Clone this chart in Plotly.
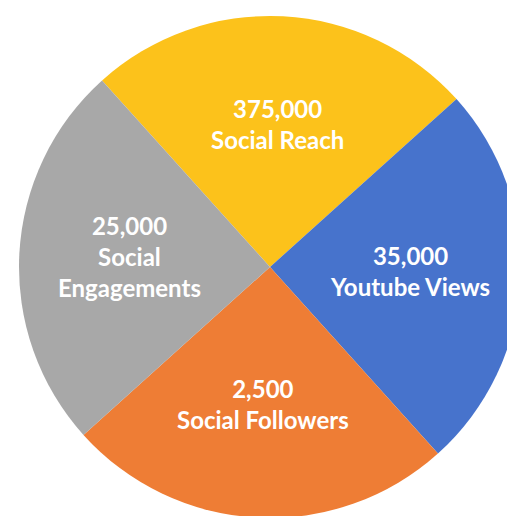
import math
import plotly.graph_objects as go

categories = ["Social Reach", "Youtube Views", "Social Followers", "Social Engagements"]
display_values = ["375,000", "35,000", "2,500", "25,000"]
label_lines = ["Social Reach", "Youtube Views", "Social Followers", "Social<br>Engagements"]
slice_shares = [1, 1, 1, 1]  # slices are drawn equal in the reference
colors = ["#FCC21B", "#4773CC", "#EE7D35", "#A8A8A8"]

texts = [f"{v}<br>{l}" for v, l in zip(display_values, label_lines)]

W, H = 525, 516
ROTATION = -42
dom_x = [10 / W, 514 / W]
dom_y = [6 / H, 508 / H]

fig = go.Figure(go.Pie(
    labels=categories,
    values=slice_shares,
    textinfo="none",
    sort=False,
    direction="clockwise",
    rotation=ROTATION,
    marker=dict(colors=colors, line=dict(width=0)),
    hoverinfo="label",
    domain=dict(x=dom_x, y=dom_y),
))

# label positions derived from the slice mid-angles
cx = (dom_x[0] + dom_x[1]) / 2
cy = (dom_y[0] + dom_y[1]) / 2
R = min((dom_x[1] - dom_x[0]) * W, (dom_y[1] - dom_y[0]) * H) / 2
frac = 0.56
total = sum(slice_shares)
start = ROTATION
for share, txt in zip(slice_shares, texts):
    span = 360 * share / total
    mid = math.radians(start + span / 2)
    start += span
    fig.add_annotation(
        x=cx + frac * R * math.sin(mid) / W,
        y=cy + frac * R * math.cos(mid) / H,
        xref="paper", yref="paper",
        text=txt, showarrow=False,
        xanchor="center", yanchor="middle", align="center", yshift=3,
        font=dict(family="Lato", size=24, color="white", weight="bold"),
    )

fig.update_layout(
    width=W, height=H,
    margin=dict(l=0, r=0, t=0, b=0),
    showlegend=False,
    paper_bgcolor="white",
)

fig.write_html("out.html")
